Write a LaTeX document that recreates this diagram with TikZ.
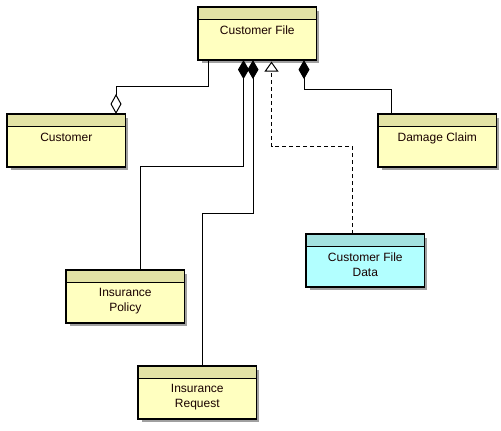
\documentclass[tikz,border=0pt]{standalone}
\usepackage{fontspec}
\setmainfont{Liberation Sans}
\usetikzlibrary{arrows.meta,calc,shadows}
\definecolor{ybody}{RGB}{255,255,192}
\definecolor{yhead}{RGB}{227,227,165}
\definecolor{cbody}{RGB}{178,255,255}
\definecolor{chead}{RGB}{163,226,224}
\definecolor{shadowgray}{RGB}{160,160,160}
\tikzset{
  umlbox/.style={draw=black, line width=1.1pt, minimum width=117.5pt, minimum height=52pt,
    inner sep=0pt, anchor=north west,
    drop shadow={shadow xshift=3pt, shadow yshift=-3pt, fill=shadowgray, opacity=1}},
  headline/.style={draw=black, line width=0.9pt},
  boxtext/.style={anchor=north, inner sep=0pt, align=center, font=\fontsize{12pt}{15pt}\selectfont, text=black!90!red},
  conn/.style={draw=black, line width=1pt},
  compo/.style={conn, {Diamond[length=19pt,width=11pt]}-},
  aggr/.style={conn, -{Diamond[open,length=20pt,width=11pt]}},
  realize/.style={conn, dash pattern=on 4pt off 3pt, -{Triangle[open,length=10pt,width=14pt]}}
}
\newcommand{\umlclass}[6]{%
  \node[umlbox, fill=#4] (#1) at (#2,#3) {};
  \fill[#5] (#1.north west) rectangle ($(#1.north east)+(0,12.5)$);
  \draw[headline] ($(#1.north west)+(0,12.5)$) -- ($(#1.north east)+(0,12.5)$);
  \draw[line width=1.1pt] (#1.north west) rectangle (#1.south east);
  \node[boxtext] (#1t) at ($(#1.north)+(0,18.5)$) {#6};
}
\begin{document}
\begin{tikzpicture}[x=1pt,y=-1pt]
\useasboundingbox (0,0) rectangle (501,431);
\fill[white] (0,0) rectangle (501,431);

\umlclass{cf}{198}{7}{ybody}{yhead}{Customer File}
\umlclass{cu}{7}{114}{ybody}{yhead}{Customer}
\umlclass{dc}{378}{114}{ybody}{yhead}{Damage Claim}
\umlclass{cfd}{306}{234}{cbody}{chead}{Customer File\\Data}
\umlclass{ip}{66}{270}{ybody}{yhead}{Insurance\\Policy}
\umlclass{ir}{138}{366}{ybody}{yhead}{Insurance\\Request}

% aggregation to Customer
\draw[aggr] ($(cf.south west)+(10,0)$) -- ++(0,26) -| ($(cu.north west)+(109,0)$);
% compositions
\draw[compo] ($(cf.south west)+(45.5,0)$) -- ++(0,106) -| ($(ip.north west)+(74,0)$);
\draw[compo] ($(cf.south west)+(55,0)$) -- ++(0,153) -| ($(ir.north west)+(64.5,0)$);
\draw[compo] ($(cf.south west)+(106,0)$) -- ++(0,29) -| ($(dc.north west)+(13,0)$);
% realization
\draw[realize] ($(cfd.north west)+(46,0)$) -- ++(0,-88) -| ($(cf.south west)+(73.5,1.5)$);
\end{tikzpicture}
\end{document}
